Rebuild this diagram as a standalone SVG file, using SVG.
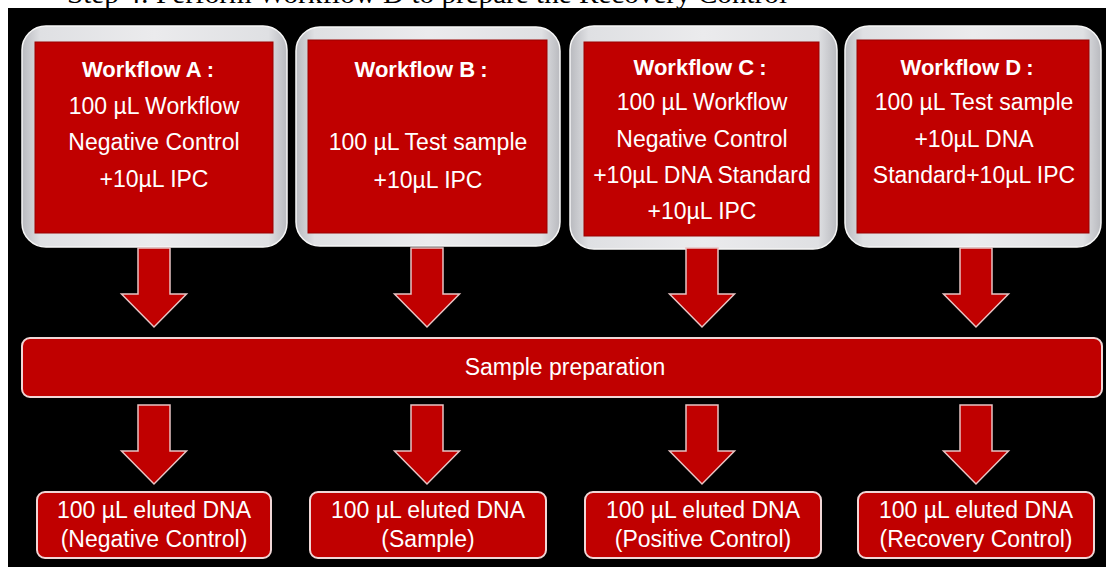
<svg xmlns="http://www.w3.org/2000/svg" width="1106" height="567" viewBox="0 0 1106 567">
<style>
.frame{fill:url(#frameG);stroke:#f6f6f6;stroke-width:1.5}
.inner{fill:#c00000;stroke:#9a0000;stroke-width:1}
.bar{fill:#c00000;stroke:#f0d6d6;stroke-width:2}
.arrow{fill:#c00000;stroke:#e8c4c4;stroke-width:1.5;stroke-linejoin:miter}
.t{font-family:"Liberation Sans",Arial,sans-serif;fill:#ffffff;text-anchor:middle;font-size:23px}
.h{font-family:"Liberation Sans",Arial,sans-serif;fill:#ffffff;text-anchor:middle;font-size:22px;font-weight:bold}
.top{font-family:"Liberation Serif","Times New Roman",serif;fill:#000;font-size:28px}
</style>
<defs>
<linearGradient id="frameG" x1="0" y1="0" x2="1" y2="0">
<stop offset="0" stop-color="#b9babf"/>
<stop offset="0.07" stop-color="#dfe0e3"/>
<stop offset="0.5" stop-color="#ebebed"/>
<stop offset="0.93" stop-color="#dfe0e3"/>
<stop offset="1" stop-color="#b9babf"/>
</linearGradient>
</defs>
<rect x="0" y="0" width="1106" height="567" fill="#ffffff"/>
<text class="top" x="67" y="3" textLength="720" lengthAdjust="spacingAndGlyphs">Step 4: Perform Workflow D to prepare the Recovery Control</text>
<rect x="8" y="8" width="1098" height="559" fill="#000000"/>

<g id="workflowA">
<rect class="frame" x="22" y="26" width="265" height="221" rx="24"/>
<rect class="inner" x="35" y="42" width="238" height="191"/>
<text class="h" x="148" y="77">Workflow A<tspan dx="5">:</tspan></text>
<text class="t" x="154" y="114">100 µL Workflow</text>
<text class="t" x="154" y="150">Negative Control</text>
<text class="t" x="154" y="187">+10µL IPC</text>
</g>

<g id="workflowB">
<rect class="frame" x="296" y="27" width="264" height="219" rx="24"/>
<rect class="inner" x="308" y="40" width="239" height="193"/>
<text class="h" x="421" y="77">Workflow B<tspan dx="5">:</tspan></text>
<text class="t" x="428" y="150">100 µL Test sample</text>
<text class="t" x="428" y="188">+10µL IPC</text>
</g>

<g id="workflowC">
<rect class="frame" x="570" y="26" width="267" height="223" rx="24"/>
<rect class="inner" x="584" y="42" width="235" height="194"/>
<text class="h" x="700" y="75">Workflow C<tspan dx="5">:</tspan></text>
<text class="t" x="702" y="110">100 µL Workflow</text>
<text class="t" x="702" y="147">Negative Control</text>
<text class="t" x="702" y="183">+10µL DNA Standard</text>
<text class="t" x="702" y="219">+10µL IPC</text>
</g>

<g id="workflowD">
<rect class="frame" x="845" y="26" width="256" height="221" rx="24"/>
<rect class="inner" x="857" y="40" width="232" height="193"/>
<text class="h" x="967" y="75">Workflow D<tspan dx="5">:</tspan></text>
<text class="t" x="974" y="110">100 µL Test sample</text>
<text class="t" x="974" y="147">+10µL DNA</text>
<text class="t" x="974" y="183">Standard+10µL IPC</text>
</g>

<g id="samplePrep">
<rect class="bar" x="22" y="338" width="1080" height="59" rx="8"/>
<text class="t" x="565" y="375">Sample preparation</text>
</g>

<g id="connectors">
<path class="arrow" d="M138,248 H170 V294 H186.5 L154,327 L121.5,294 H138 Z"/>
<path class="arrow" d="M411,248 H443 V294 H459.5 L427,327 L394.5,294 H411 Z"/>
<path class="arrow" d="M686,248 H718 V294 H734.5 L702,327 L669.5,294 H686 Z"/>
<path class="arrow" d="M960,248 H992 V294 H1008.5 L976,327 L943.5,294 H960 Z"/>
<path class="arrow" d="M138,405 H170 V451 H186.5 L154,484 L121.5,451 H138 Z"/>
<path class="arrow" d="M411,405 H443 V451 H459.5 L427,484 L394.5,451 H411 Z"/>
<path class="arrow" d="M686,405 H718 V451 H734.5 L702,484 L669.5,451 H686 Z"/>
<path class="arrow" d="M960,405 H992 V451 H1008.5 L976,484 L943.5,451 H960 Z"/>
</g>

<g id="outNeg">
<rect class="bar" x="37" y="492" width="234" height="66" rx="8"/>
<text class="t" x="154" y="518">100 µL eluted DNA</text>
<text class="t" x="154" y="547">(Negative Control)</text>
</g>
<g id="outSample">
<rect class="bar" x="310" y="492" width="236" height="66" rx="8"/>
<text class="t" x="428" y="518">100 µL eluted DNA</text>
<text class="t" x="428" y="547">(Sample)</text>
</g>
<g id="outPos">
<rect class="bar" x="585" y="492" width="236" height="66" rx="8"/>
<text class="t" x="703" y="518">100 µL eluted DNA</text>
<text class="t" x="703" y="547">(Positive Control)</text>
</g>
<g id="outRec">
<rect class="bar" x="858" y="492" width="236" height="66" rx="8"/>
<text class="t" x="976" y="518">100 µL eluted DNA</text>
<text class="t" x="976" y="547">(Recovery Control)</text>
</g>
</svg>
